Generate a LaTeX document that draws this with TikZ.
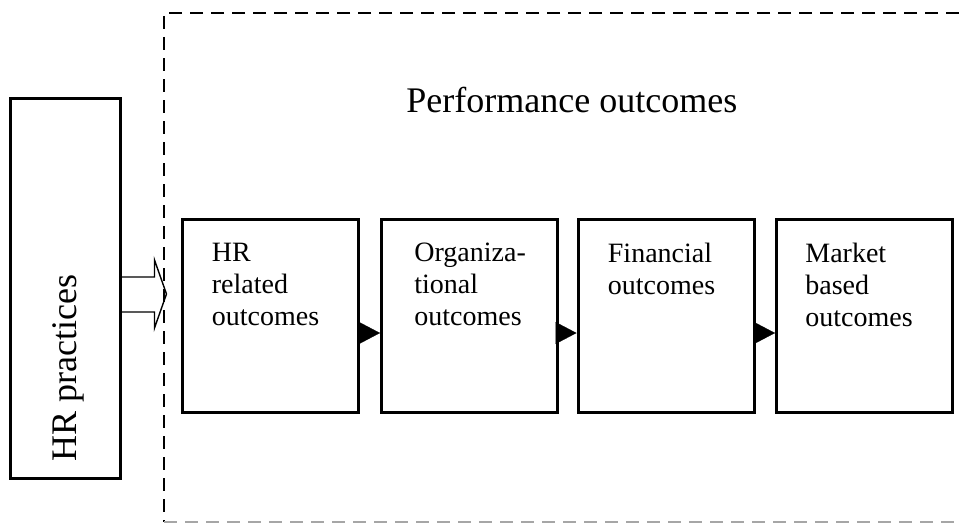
\documentclass[tikz,border=0pt]{standalone}
\usepackage{fontspec}
\setmainfont{Liberation Serif}
\usetikzlibrary{calc,arrows.meta}
\begin{document}
\begin{tikzpicture}[x=0.5pt,y=-0.5pt,
  solidbox/.style={draw,line width=1.5pt,rectangle,inner sep=0pt,minimum width=88pt,minimum height=96.5pt},
  boxtext/.style={anchor=north west,inner sep=0pt,align=left,font=\fontsize{14pt}{16pt}\selectfont},
  dashframe/.style={line width=1.1pt,dash pattern=on 6.5pt off 4pt},
  flowtip/.style={-{Triangle[length=10.5pt,width=11pt]},line width=0.1pt},
  blockarrow/.style={line width=0.7pt,line join=miter}]
\useasboundingbox (0,0) rectangle (959,530);
% dashed frame
\coordinate (fTR) at (959,13);
\coordinate (fTL) at (164,13);
\coordinate (fBL) at (164,522);
\coordinate (fBR) at (959,522);
\draw[dashframe] (fTR) -- (fTL) -- (fBL);
\draw[dashframe,black!35] (fBL) -- (fBR);
% title
\node[anchor=base west,inner sep=0pt,font=\fontsize{18pt}{20pt}\selectfont] (title) at (406,112) {Performance outcomes};
% HR practices box
\node[draw,line width=1.5pt,rectangle,inner sep=0pt,minimum width=55pt,minimum height=190pt] (hr) at (65,288) {};
\node[rotate=90,anchor=base,inner sep=0pt,font=\fontsize{18pt}{20pt}\selectfont] (hrtext) at (76,368) {HR practices};
% outcome boxes
\node[solidbox] (b1) at (270,315.5) {};
\node[solidbox] (b2) at (469.5,315.5) {};
\node[solidbox] (b3) at (666,315.5) {};
\node[solidbox] (b4) at (864.5,315.5) {};
\node[boxtext] (t1) at ($(b1.north west)+(31,25)$) {HR\\related\\outcomes};
\node[boxtext] (t2) at ($(b2.north west)+(34,25)$) {Organiza-\\tional\\outcomes};
\node[boxtext] (t3) at ($(b3.north west)+(31,25)$) {Financial\\outcomes};
\node[boxtext] (t4) at ($(b4.north west)+(30,25)$) {Market\\based\\outcomes};
% flow arrows
\draw[flowtip] ($(b1.east)+(0,17.5)$) -- ($(b2.west)+(0,17.5)$);
\draw[flowtip] ($(b2.east)+(0,17.5)$) -- ($(b3.west)+(0,17.5)$);
\draw[flowtip] ($(b3.east)+(0,17.5)$) -- ($(b4.west)+(0,17.5)$);
% hollow block arrow
\draw[blockarrow] ($(hr.east)+(0,-11)$) -- ($(hr.east)+(33,-11)$) -- ($(hr.east)+(33,-28)$)
  -- ($(hr.east)+(45,6)$) -- ($(hr.east)+(33,40)$) -- ($(hr.east)+(33,24)$) -- ($(hr.east)+(0,24)$);
\end{tikzpicture}
\end{document}
